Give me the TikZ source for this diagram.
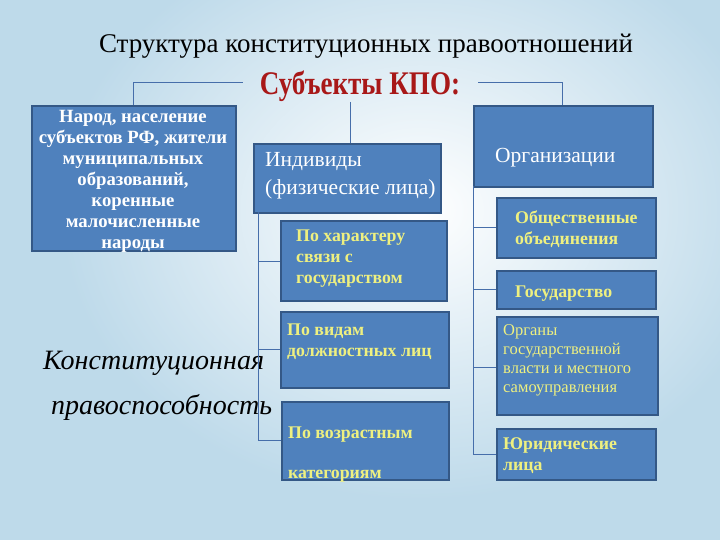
\documentclass[tikz,border=0pt]{standalone}
\usepackage{fontspec}
\setmainfont{Liberation Serif}
\newfontfamily\cond[FakeStretch=0.82]{Liberation Serif}
\definecolor{bgblue}{RGB}{190,218,234}
\definecolor{boxfill}{RGB}{79,129,189}
\definecolor{boxline}{RGB}{52,88,134}
\definecolor{linkblue}{RGB}{70,110,170}
\definecolor{kpored}{RGB}{168,24,24}
\definecolor{yel}{RGB}{238,240,128}
\tikzset{
  box/.style={draw=boxline, line width=1.6pt, fill=boxfill, anchor=north west, inner sep=0pt},
  link/.style={draw=linkblue, line width=0.7pt},
  wtxt/.style={text=white, font=\rmfamily\fontsize{21.5}{28}\selectfont, inner sep=0pt},
  ytxt/.style={text=yel, font=\rmfamily\bfseries\fontsize{17.8}{21}\selectfont, inner sep=0pt, anchor=north west, align=left},
}
\begin{document}
\begin{tikzpicture}[x=1pt,y=-1pt]
\useasboundingbox (0,0) rectangle (720,540);
\fill[bgblue] (0,0) rectangle (720,540);
\shade[inner color=white, outer color=bgblue] (60,-80) rectangle (780,500);
% title
\node[font=\rmfamily\fontsize{27}{30}\selectfont, inner sep=0pt] (title) at (366,46) {Структура конституционных правоотношений};
\node[font=\cond\bfseries\fontsize{33}{36}\selectfont, text=kpored, inner sep=0pt] (kpo) at (360,86) {Субъекты КПО:};
% main boxes
\node[box, minimum width=204pt, minimum height=145pt] (narod) at (31,105) {};
\node[box, minimum width=187pt, minimum height=69pt] (ind) at (253,143) {};
\node[box, minimum width=179pt, minimum height=81pt] (org) at (473,105) {};
% main texts
\node[wtxt, font=\rmfamily\bfseries\fontsize{18.7}{21}\selectfont, align=center, anchor=north] (narodt) at (133,110)
 {Народ, население\\субъектов РФ, жители\\муниципальных\\образований,\\коренные\\малочисленные\\народы};
\node[wtxt, align=left, anchor=north west] (indt) at (265,152) {Индивиды\\(физические лица)};
\node[wtxt, anchor=west] (orgt) at (495,158) {Организации};
% sub boxes left
\node[box, minimum width=166pt, minimum height=80pt] (har) at (280,220) {};
\node[box, minimum width=168pt, minimum height=76pt] (vid) at (280,311) {};
\node[box, minimum width=167pt, minimum height=78pt] (voz) at (281,401) {};
\node[ytxt] (hart) at (296,230) {По характеру\\связи с\\государством};
\node[ytxt] (vidt) at (287,324) {По видам\\должностных лиц};
\node[ytxt] (vozt) at (288,427) {По возрастным};
\node[ytxt] (vozt2) at (288,470) {категориям};
% sub boxes right
\node[box, minimum width=159pt, minimum height=60pt] (obs) at (496,197) {};
\node[box, minimum width=159pt, minimum height=38pt] (gos) at (496,270) {};
\node[box, minimum width=161pt, minimum height=98pt] (orga) at (496,316) {};
\node[box, minimum width=159pt, minimum height=51pt] (jur) at (496,428) {};
\node[ytxt] (obst) at (515,211) {Общественные\\объединения};
\node[ytxt] (gost) at (515,286) {Государство};
\node[ytxt, font=\rmfamily\fontsize{16.5}{19}\selectfont] (orgat) at (503,324.5) {Органы\\государственной\\власти и местного\\самоуправления};
\node[ytxt] (jurt) at (503,438) {Юридические\\лица};
% italic text
\node[font=\rmfamily\itshape\fontsize{28}{45}\selectfont, align=left, anchor=north west, inner sep=0pt] (kpr) at (43,351) {Конституционная\\\hspace*{8pt}правоспособность};
% connectors
\coordinate (kl) at (243,82);
\coordinate (kr) at (478,82);
\draw[link] (narod.north) |- (kl);
\draw[link] (kr) -| (org.north -| 562,0);
\draw[link] (350,102) -- (ind.north -| 350,0);
\coordinate (lt) at (258,212);
\coordinate (lb) at (258,440);
\draw[link] (lt) -- (lb);
\draw[link] (258,261) -- (har.west |- 0,261);
\draw[link] (258,349) -- (vid.west |- 0,349);
\draw[link] (lb) -- (voz.west |- 0,440);
\coordinate (rt) at (473,186);
\coordinate (rb) at (473,454);
\draw[link] (rt) -- (rb);
\draw[link] (473,227) -- (obs.west |- 0,227);
\draw[link] (473,289) -- (gos.west |- 0,289);
\draw[link] (473,367) -- (orga.west |- 0,367);
\draw[link] (rb) -- (jur.west |- 0,454);
\end{tikzpicture}
\end{document}
